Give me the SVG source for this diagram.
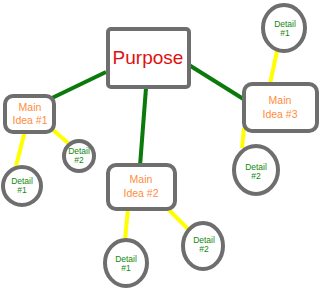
<svg xmlns="http://www.w3.org/2000/svg" width="320" height="289" viewBox="0 0 320 289">
<style>
.box{fill:#fff;stroke:#6e6e6e;stroke-width:4}
.g{stroke:#0a7a0a;stroke-width:4;fill:none}
.y{stroke:#ffff00;stroke-width:4;fill:none}
.p{font-family:"Liberation Sans",sans-serif;font-size:19px;fill:#e01010;text-anchor:middle}
.m{font-family:"Liberation Sans",sans-serif;font-size:10.5px;fill:#ff8c40;text-anchor:middle}
.d{font-family:"Liberation Sans",sans-serif;font-size:8.5px;fill:#108a10;text-anchor:middle}
</style>
<rect width="320" height="289" fill="#fff"/>
<g id="connectors">
<line class="g" x1="106" y1="72" x2="52" y2="98"/>
<line class="g" x1="146" y1="88" x2="140" y2="166"/>
<line class="g" x1="189" y1="65" x2="245" y2="100"/>
<line class="y" x1="25" y1="131" x2="16" y2="166"/>
<line class="y" x1="53" y1="130" x2="68" y2="143"/>
<line class="y" x1="277" y1="51" x2="270" y2="84"/>
<line class="y" x1="244" y1="128" x2="242" y2="148"/>
<line class="y" x1="128" y1="208" x2="125" y2="240"/>
<line class="y" x1="166" y1="207" x2="189" y2="230"/>
</g>
<g id="purpose"><rect class="box" x="108" y="29" width="81" height="58" rx="3"/><text class="p" x="148" y="64">Purpose</text></g>
<g id="main1"><rect class="box" x="5" y="96" width="49" height="36" rx="8"/><text class="m" x="30" y="111">Main</text><text class="m" x="30" y="124">Idea #1</text></g>
<g id="main2"><rect class="box" x="108" y="165" width="67" height="44" rx="8"/><text class="m" x="141" y="183">Main</text><text class="m" x="141" y="197">Idea #2</text></g>
<g id="main3"><rect class="box" x="244" y="84" width="73" height="47" rx="8"/><text class="m" x="280" y="104">Main</text><text class="m" x="280" y="118">Idea #3</text></g>
<g id="m1d1"><circle class="box" cx="22" cy="186" r="19"/><text class="d" x="22" y="184">Detail</text><text class="d" x="22" y="193">#1</text></g>
<g id="m1d2"><circle class="box" cx="79" cy="156" r="15"/><text class="d" x="79" y="154">Detail</text><text class="d" x="79" y="163">#2</text></g>
<g id="m3d1"><ellipse class="box" cx="284" cy="28" rx="21" ry="23"/><text class="d" x="285" y="27">Detail</text><text class="d" x="285" y="36">#1</text></g>
<g id="m3d2"><ellipse class="box" cx="256" cy="170" rx="22" ry="24"/><text class="d" x="256" y="170">Detail</text><text class="d" x="256" y="179">#2</text></g>
<g id="m2d1"><ellipse class="box" cx="126" cy="263" rx="21" ry="23"/><text class="d" x="126" y="262">Detail</text><text class="d" x="126" y="271">#1</text></g>
<g id="m2d2"><ellipse class="box" cx="203" cy="246" rx="20" ry="23"/><text class="d" x="204" y="243">Detail</text><text class="d" x="204" y="252">#2</text></g>
</svg>
